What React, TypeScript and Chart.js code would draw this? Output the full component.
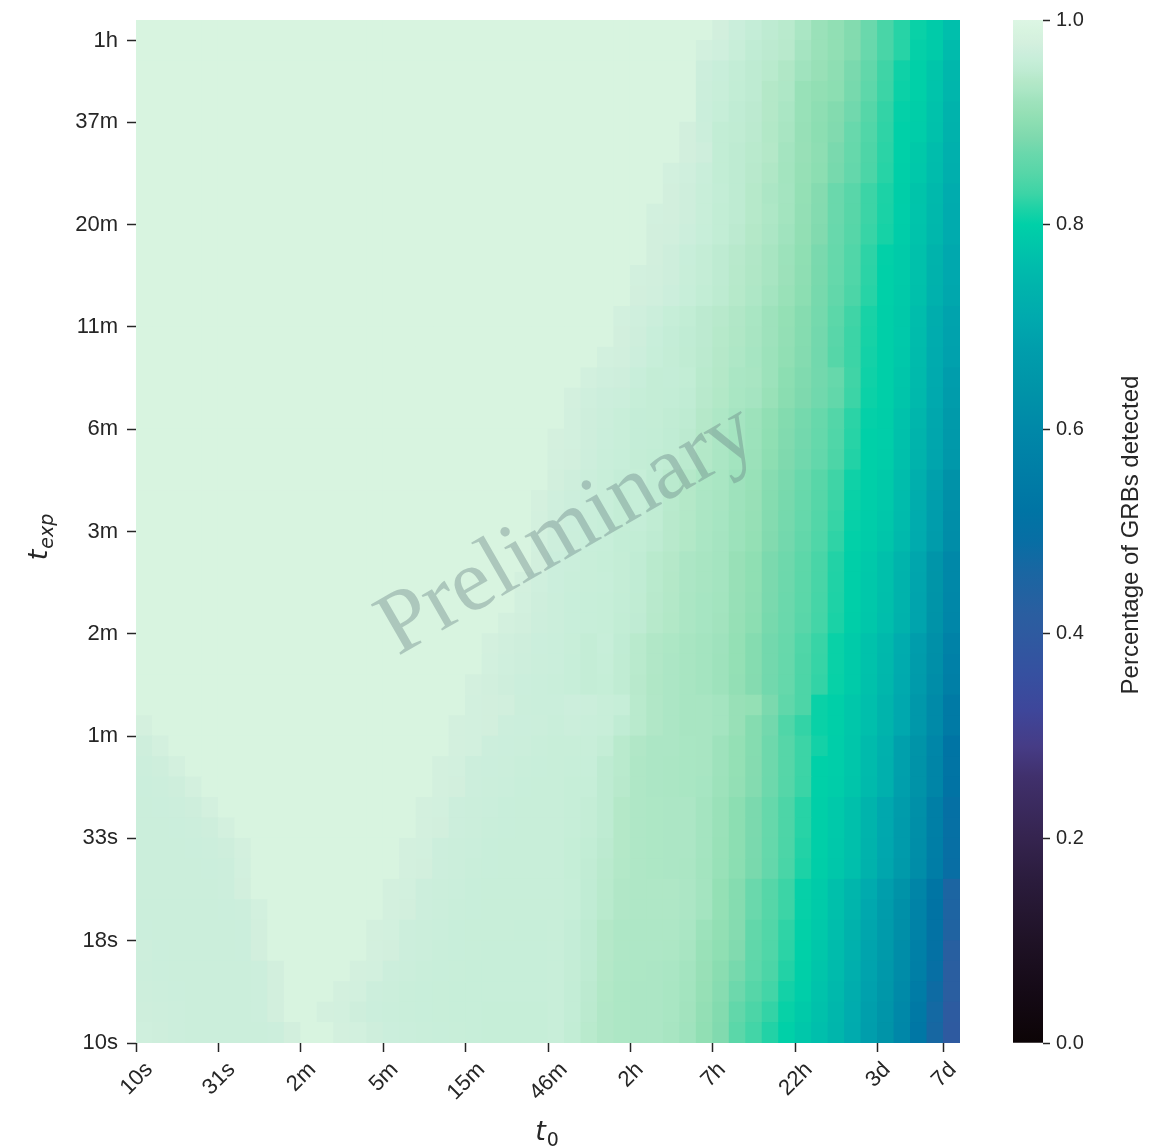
import React, { useEffect, useRef } from "react";
import { Chart, registerables } from "chart.js";

Chart.register(...registerables);

// ---- axes ----
const t0TickPositions = [0, 5, 10, 15, 20, 25, 30, 35, 40, 45, 49];
const t0TickLabels = ["10s", "31s", "2m", "5m", "15m", "46m", "2h", "7h", "22h", "3d", "7d"];
const texpTickPositions = [0, 5, 10, 15, 20, 25, 30, 35, 40, 45, 49];
const texpTickLabels = ["10s", "18s", "33s", "1m", "2m", "3m", "6m", "11m", "20m", "37m", "1h"];
const colorbarTicks = [0, 0.2, 0.4, 0.6, 0.8, 1.0];
const colorbarLabel = "Percentage of GRBs detected";
const watermarkText = "Preliminary";

// ---- values: fraction detected x1000; rows from top (t_exp = 1h) to bottom (t_exp = 10s),
// columns from t0 = 10s (left) to t0 = 7d (right) ----
const detectedPerMille: number[][] = [
  [990,990,990,990,990,990,990,990,990,990, 990,990,990,990,990,990,990,990,990,990, 990,990,990,990,990,990,990,990,990,990, 990,990,990,990,990, 975,965,958,950,945,930,915,905,890,870,840,820,805,790,765],
  [990,990,990,990,990,990,990,990,990,990, 990,990,990,990,990,990,990,990,990,990, 990,990,990,990,990,990,990,990,990,990, 990,990,990,990, 976,972,962,953,948,944,926,915,905,890,868,840,820,802,790,758],
  [990,990,990,990,990,990,990,990,990,990, 990,990,990,990,990,990,990,990,990,990, 990,990,990,990,990,990,990,990,990,990, 990,990,990,990, 968,963,956,950,945,936,922,912,902,882,862,832,808,800,778,748],
  [990,990,990,990,990,990,990,990,990,990, 990,990,990,990,990,990,990,990,990,990, 990,990,990,990,990,990,990,990,990,990, 990,990,990,990, 966,962,955,950,940,934,913,906,900,880,858,830,806,800,775,745],
  [990,990,990,990,990,990,990,990,990,990, 990,990,990,990,990,990,990,990,990,990, 990,990,990,990,990,990,990,990,990,990, 990,990,990,990, 965,960,953,948,940,930,913,902,890,875,850,826,802,796,772,738],
  [990,990,990,990,990,990,990,990,990,990, 990,990,990,990,990,990,990,990,990,990, 990,990,990,990,990,990,990,990,990,990, 990,990,990, 975,966,955,952,947,938,928,911,900,888,868,846,824,800,794,770,735],
  [990,990,990,990,990,990,990,990,990,990, 990,990,990,990,990,990,990,990,990,990, 990,990,990,990,990,990,990,990,990,990, 990,990,990, 975,970,955,950,945,940,925,912,902,882,866,844,822,800,786,762,727],
  [990,990,990,990,990,990,990,990,990,990, 990,990,990,990,990,990,990,990,990,990, 990,990,990,990,990,990,990,990,990,990, 990,990, 976,972,964,955,950,944,936,924,910,900,880,864,842,820,798,784,760,724],
  [990,990,990,990,990,990,990,990,990,990, 990,990,990,990,990,990,990,990,990,990, 990,990,990,990,990,990,990,990,990,990, 990,990, 975,970,962,956,950,942,932,925,908,892,870,853,830,815,796,776,752,716],
  [990,990,990,990,990,990,990,990,990,990, 990,990,990,990,990,990,990,990,990,990, 990,990,990,990,990,990,990,990,990,990, 990, 976,975,970,962,955,950,942,934,924,907,891,870,852,830,814,795,775,750,714],
  [990,990,990,990,990,990,990,990,990,990, 990,990,990,990,990,990,990,990,990,990, 990,990,990,990,990,990,990,990,990,990, 990, 975,974,968,961,955,948,940,932,922,906,889,868,850,828,812,794,773,748,712],
  [990,990,990,990,990,990,990,990,990,990, 990,990,990,990,990,990,990,990,990,990, 990,990,990,990,990,990,990,990,990,990, 990, 975,970,963,957,950,944,937,928,918,903,882,866,846,823,801,790,770,736,706],
  [990,990,990,990,990,990,990,990,990,990, 990,990,990,990,990,990,990,990,990,990, 990,990,990,990,990,990,990,990,990,990, 976,974,970,962,957,950,943,936,928,917,902,881,865,845,822,800,789,769,735,705],
  [990,990,990,990,990,990,990,990,990,990, 990,990,990,990,990,990,990,990,990,990, 990,990,990,990,990,990,990,990,990,990, 975,973,968,961,955,949,942,934,925,914,900,880,862,842,820,799,788,767,732,702],
  [990,990,990,990,990,990,990,990,990,990, 990,990,990,990,990,990,990,990,990,990, 990,990,990,990,990,990,990,990,990, 976,972,966,960,955,948,944,937,929,920,908,894,878,856,833,813,798,786,762,718,692],
  [990,990,990,990,990,990,990,990,990,990, 990,990,990,990,990,990,990,990,990,990, 990,990,990,990,990,990,990,990,990, 975,970,963,958,953,948,942,936,928,920,907,893,877,853,830,812,797,785,760,715,690],
  [990,990,990,990,990,990,990,990,990,990, 990,990,990,990,990,990,990,990,990,990, 990,990,990,990,990,990,990,990, 976,974,968,961,957,952,947,941,934,927,918,905,891,876,850,830,810,797,784,758,713,688],
  [990,990,990,990,990,990,990,990,990,990, 990,990,990,990,990,990,990,990,990,990, 990,990,990,990,990,990,990, 976,972,970,963,957,958,955,945,940,930,928,918,900,887,877,866,833,808,797,780,755,710,675],
  [990,990,990,990,990,990,990,990,990,990, 990,990,990,990,990,990,990,990,990,990, 990,990,990,990,990,990, 977,972,968,966,960,957,956,953,944,938,929,926,914,898,885,875,862,830,806,797,778,752,707,672],
  [990,990,990,990,990,990,990,990,990,990, 990,990,990,990,990,990,990,990,990,990, 990,990,990,990,990,990, 976,970,966,962,958,957,954,950,941,934,926,919,905,890,878,867,848,822,802,796,772,744,702,664],
  [990,990,990,990,990,990,990,990,990,990, 990,990,990,990,990,990,990,990,990,990, 990,990,990,990,990, 978,976,970,965,962,958,956,953,948,940,932,925,918,903,888,877,865,845,820,800,795,770,740,700,660],
  [990,990,990,990,990,990,990,990,990,990, 990,990,990,990,990,990,990,990,990,990, 990,990,990,990,990, 977,975,969,964,961,957,955,952,947,939,931,924,916,901,886,875,863,843,818,800,794,768,738,698,656],
  [990,990,990,990,990,990,990,990,990,990, 990,990,990,990,990,990,990,990,990,990, 990,990,990,990,990, 975,970,966,962,958,960,953,946,941,933,929,921,913,895,882,869,852,832,808,797,787,762,724,684,632],
  [990,990,990,990,990,990,990,990,990,990, 990,990,990,990,990,990,990,990,990,990, 990,990,990,990, 978,972,968,965,962,957,960,953,945,940,932,928,920,912,893,880,867,850,830,805,795,785,760,720,680,625],
  [990,990,990,990,990,990,990,990,990,990, 990,990,990,990,990,990,990,990,990,990, 990,990,990,990, 977,970,967,964,961,957,958,952,944,939,931,927,919,910,891,878,865,848,827,803,794,782,757,716,676,620],
  [990,990,990,990,990,990,990,990,990,990, 990,990,990,990,990,990,990,990,990,990, 990,990,990,990, 976,969,966,963,961,956,955,950,944,938,930,926,918,908,889,877,862,845,824,801,792,778,752,712,670,615],
  [990,990,990,990,990,990,990,990,990,990, 990,990,990,990,990,990,990,990,990,990, 990,990,990,990, 975,967,965,962,960,957,953,945,941,932,928,925,912,903,883,873,857,840,818,798,785,768,740,700,645,600],
  [990,990,990,990,990,990,990,990,990,990, 990,990,990,990,990,990,990,990,990,990, 990,990,990, 977,972,967,964,962,961,957,953,945,940,932,928,925,912,903,883,872,856,839,817,797,784,767,738,698,643,598],
  [990,990,990,990,990,990,990,990,990,990, 990,990,990,990,990,990,990,990,990,990, 990,990,990, 976,970,966,963,961,960,956,952,944,939,931,927,924,911,902,882,871,855,838,816,797,783,766,737,696,641,596],
  [990,990,990,990,990,990,990,990,990,990, 990,990,990,990,990,990,990,990,990,990, 990,990, 977,974,969,966,963,961,960,955,951,943,938,931,927,923,910,900,880,870,853,836,814,796,782,764,735,694,638,592],
  [990,990,990,990,990,990,990,990,990,990, 990,990,990,990,990,990,990,990,990,990, 990, 977,973,970,967,965,962,957,961,953,945,937,933,928,925,921,908,893,877,867,845,828,805,790,772,752,715,675,625,575],
  [990,990,990,990,990,990,990,990,990,990, 990,990,990,990,990,990,990,990,990,990, 990, 976,972,969,966,965,961,957,960,952,945,937,932,928,925,920,908,893,877,866,844,827,805,790,771,750,713,672,622,570],
  [990,990,990,990,990,990,990,990,990,990, 990,990,990,990,990,990,990,990,990,990, 977,974,970,967,965,964,961,957,959,952,944,936,932,928,925,920,907,892,876,865,843,826,804,789,770,748,710,668,618,565],
  [990,990,990,990,990,990,990,990,990,990, 990,990,990,990,990,990,990,990,990,990, 976,975,974,966,965,965,968,966,962,960,945,937,932,928,928,925,912,908,883,860,843,805,797,782,765,740,705,655,605,545],
  [978, 990,990,990,990,990,990,990,990,990,990, 990,990,990,990,990,990,990,990, 977,976,975,968,967,966,964,966,964,962,953,945,937,932,928,928,925,912,893,877,845,826,805,797,782,765,740,705,655,605,545],
  [970,977, 990,990,990,990,990,990,990,990,990,990, 990,990,990,990,990,990,990, 977,976,968,967,966,964,962,962,962,957,945,937,932,932,929,928,920,908,893,873,850,830,810,795,780,758,730,685,640,590,520],
  [968,970,977, 990,990,990,990,990,990,990,990,990,990, 990,990,990,990,990, 977,976,968,967,966,964,963,962,961,961,950,945,935,932,931,929,928,920,908,892,873,850,830,800,795,779,757,729,684,638,588,518],
  [967,968,970,977, 990,990,990,990,990,990,990,990,990,990, 990,990,990,990, 977,975,968,966,965,963,962,962,960,960,950,944,935,932,931,929,927,919,907,891,872,849,829,799,794,778,756,728,682,636,586,515],
  [966,967,968,970,977, 990,990,990,990,990,990,990,990,990,990, 990,990, 977,976,968,966,965,963,962,962,962,960,957,950,940,935,933,932,932,925,915,900,883,866,843,820,798,785,768,740,705,670,625,565,500],
  [966,966,967,968,970,977, 990,990,990,990,990,990,990,990,990,990, 990, 977,975,968,966,964,963,962,962,962,960,957,950,940,935,933,932,932,925,915,900,883,866,843,820,798,785,768,740,705,668,623,562,498],
  [966,966,966,967,968,970,977, 990,990,990,990,990,990,990,990,990, 977,976,968,966,965,963,962,962,962,962,959,955,948,940,935,933,932,932,925,914,900,882,865,842,818,797,784,767,738,703,666,620,560,495],
  [966,966,966,966,967,968,976, 990,990,990,990,990,990,990,990,990, 977,975,968,966,964,963,962,962,962,962,959,954,946,939,935,933,932,931,924,913,899,881,864,840,815,796,782,765,735,700,663,617,555,490],
  [966,966,966,966,966,968,975, 990,990,990,990,990,990,990,990, 977,976,968,966,965,963,962,962,962,962,962,960,953,945,937,935,935,935,932,925,908,893,870,850,830,803,790,768,745,712,678,635,588,525,455],
  [966,966,966,966,966,967,968,976, 990,990,990,990,990,990,990, 977,975,968,966,964,963,962,962,962,962,962,960,953,945,937,935,935,935,932,925,908,893,870,850,830,803,789,767,742,705,672,628,580,515,450],
  [967,966,966,966,966,966,967,975, 990,990,990,990,990,990, 977,976,968,966,965,963,962,962,962,961,961,962,958,950,940,934,934,934,934,930,918,906,892,862,847,824,801,785,763,735,700,668,622,575,510,445],
  [969,967,966,966,966,966,967,975, 990,990,990,990,990,990, 977,975,968,966,964,963,962,961,961,961,961,962,958,951,941,935,934,934,933,928,914,903,888,860,845,822,800,782,760,730,696,662,618,570,505,425],
  [968,967,966,966,966,966,966,968,975, 990,990,990,990, 977,976,968,966,964,963,962,961,961,961,961,961,962,957,950,940,934,933,932,930,925,912,898,880,858,842,818,798,778,757,725,692,655,612,562,495,420],
  [969,968,967,966,966,966,966,968,975, 990,990,990, 977,976,968,966,964,963,962,961,961,961,961,961,961,962,956,948,938,933,932,932,929,924,910,895,872,850,835,810,795,773,752,720,688,650,605,550,480,418],
  [970,969,968,966,966,966,966,968,975, 990,990, 977,976,970,967,965,964,963,962,961,961,960,960,960,960,962,956,947,937,933,932,932,929,923,907,890,862,842,826,804,788,769,748,716,682,645,600,538,470,405],
  [972,970,968,966,966,966,966,966,968,975, 990,990, 977,976,970,967,965,964,963,962,961,960,960,960,960,962,955,945,937,933,932,932,928,922,905,888,855,835,818,800,782,765,745,712,678,640,595,530,465,400],
];

// ---- colour map (mako-like, as rendered in the reference) ----
const MAKO_STOPS: [number, string][] = [
  [0.0, "#0C0406"], [0.05, "#150A16"], [0.1, "#1F1226"], [0.16, "#2B1C3D"], [0.2, "#35244F"],
  [0.26, "#40306C"], [0.29, "#463C86"], [0.325, "#3E469A"], [0.36, "#3650A0"], [0.4, "#2E5AA0"],
  [0.42, "#2A5EA0"], [0.46, "#1A66A2"], [0.49, "#086EA4"], [0.52, "#0074A4"], [0.56, "#007EA6"],
  [0.6, "#0088A8"], [0.64, "#0094A8"], [0.68, "#009EAC"], [0.71, "#00AAAE"], [0.74, "#00B4AC"],
  [0.76, "#00BCAC"], [0.78, "#00C6AA"], [0.8, "#00D0A8"], [0.815, "#1CD2A6"], [0.83, "#3CD4A6"],
  [0.85, "#56D6A8"], [0.87, "#6AD8AC"], [0.885, "#7ED9AE"], [0.9, "#8CDEB2"], [0.91, "#96E0B6"],
  [0.92, "#9EE2BC"], [0.93, "#AAE6C4"], [0.94, "#B4E8C8"], [0.95, "#BEEBD2"], [0.96, "#C6EED8"],
  [0.968, "#CCEEDC"], [0.978, "#D4F0DE"], [0.99, "#D8F4E0"], [1.0, "#DDF6E4"],
];

const INK = "#262626";
const SANS = "'Liberation Sans', Arial, Helvetica, sans-serif";
const TICK_PX = 22;

function hexToRgb(h: string): [number, number, number] {
  const n = parseInt(h.slice(1), 16);
  return [(n >> 16) & 255, (n >> 8) & 255, n & 255];
}

function colorFor(v: number): string {
  if (v <= MAKO_STOPS[0][0]) return MAKO_STOPS[0][1];
  for (let i = 1; i < MAKO_STOPS.length; i++) {
    const [p1, c1] = MAKO_STOPS[i];
    if (v <= p1) {
      const [p0, c0] = MAKO_STOPS[i - 1];
      const t = (v - p0) / (p1 - p0);
      const a = hexToRgb(c0);
      const b = hexToRgb(c1);
      const r = Math.round(a[0] + (b[0] - a[0]) * t);
      const g = Math.round(a[1] + (b[1] - a[1]) * t);
      const bl = Math.round(a[2] + (b[2] - a[2]) * t);
      return `rgb(${r},${g},${bl})`;
    }
  }
  return MAKO_STOPS[MAKO_STOPS.length - 1][1];
}

function drawSubscripted(
  c: CanvasRenderingContext2D, x: number, y: number, rot: number,
  main: string, sub: string, subItalic: boolean
) {
  const mainFont = "italic 27px 'DejaVu Sans', sans-serif";
  const subFont = (subItalic ? "italic " : "") + "19px 'DejaVu Sans', sans-serif";
  c.save();
  c.translate(x, y);
  c.rotate(rot);
  c.textAlign = "left";
  c.textBaseline = "alphabetic";
  c.font = mainFont;
  const wm = c.measureText(main).width;
  c.font = subFont;
  const ws = c.measureText(sub).width;
  const start = -(wm + ws + 1) / 2;
  c.font = mainFont;
  c.fillText(main, start, 0);
  c.font = subFont;
  c.fillText(sub, start + wm + 1, 6);
  c.restore();
}

const titlesPlugin = {
  id: "mathTitles",
  afterDraw(chart: any) {
    const c = chart.ctx as CanvasRenderingContext2D;
    c.save();
    c.fillStyle = INK;
    drawSubscripted(c, 47, 537, -Math.PI / 2, "t", "exp", true);
    drawSubscripted(c, 547, 1140, 0, "t", "0", false);
    c.restore();
  },
};

// x tick labels rotated 45 degrees, centred under their ticks (matplotlib style)
const xLabelsPlugin = {
  id: "xLabels",
  afterDraw(chart: any) {
    const c = chart.ctx as CanvasRenderingContext2D;
    const xs = chart.scales.x;
    const top = chart.chartArea.bottom + 17;
    c.save();
    c.fillStyle = INK;
    c.font = `${TICK_PX}px ${SANS}`;
    c.textAlign = "center";
    c.textBaseline = "middle";
    t0TickPositions.forEach((v, i) => {
      const label = t0TickLabels[i];
      const px = xs.getPixelForValue(v);
      const w = c.measureText(label).width;
      const h = TICK_PX * 0.72;
      const half = ((w + h) * Math.SQRT1_2) / 2;
      c.save();
      c.translate(px, top + half);
      c.rotate(-Math.PI / 4);
      c.fillText(label, 0, 1);
      c.restore();
    });
    c.restore();
  },
};

const watermarkPlugin = {
  id: "watermark",
  afterDatasetsDraw(chart: any) {
    const c = chart.ctx as CanvasRenderingContext2D;
    c.save();
    c.translate(568, 531);
    c.rotate((-30 * Math.PI) / 180);
    c.font = "89px 'Liberation Serif', 'Times New Roman', serif";
    c.textAlign = "center";
    c.textBaseline = "middle";
    c.fillStyle = "rgba(100,125,128,0.38)";
    c.fillText(watermarkText, 0, 0);
    c.restore();
  },
};

const colorbarTitlePlugin = {
  id: "cbTitle",
  afterDraw(chart: any) {
    const c = chart.ctx as CanvasRenderingContext2D;
    c.save();
    c.translate(131, 535);
    c.rotate(-Math.PI / 2);
    c.font = `24px ${SANS}`;
    c.fillStyle = INK;
    c.textAlign = "center";
    c.textBaseline = "middle";
    c.fillText(colorbarLabel, 0, 0);
    c.restore();
  },
};

export default function App() {
  const mainRef = useRef<HTMLCanvasElement>(null);
  const cbRef = useRef<HTMLCanvasElement>(null);

  const badRows = detectedPerMille
    .map((r, i) => (r.length !== 50 ? `row ${i}: ${r.length}` : ""))
    .filter(Boolean);

  useEffect(() => {
    if (!mainRef.current || !cbRef.current) return;
    const nRows = detectedPerMille.length;
    const cells: { x: number; y: [number, number]; v: number }[] = [];
    detectedPerMille.forEach((row, r) => {
      const yi = nRows - 1 - r;
      row.forEach((val, c) => {
        cells.push({ x: c + 0.5, y: [yi, yi + 1], v: val / 1000 });
      });
    });

    const main = new Chart(mainRef.current, {
      type: "bar",
      data: {
        datasets: [
          {
            data: cells as any,
            backgroundColor: (ctx: any) => (ctx.raw ? colorFor(ctx.raw.v) : "rgba(0,0,0,0)"),
            borderWidth: 0,
            borderSkipped: false,
            inflateAmount: 0.5,
            barPercentage: 1,
            categoryPercentage: 1,
          } as any,
        ],
      },
      options: {
        animation: false,
        responsive: false,
        devicePixelRatio: 1,
        events: [],
        layout: { padding: { left: 20, right: 40, top: 20, bottom: 0 } },
        plugins: { legend: { display: false }, tooltip: { enabled: false } },
        scales: {
          x: {
            type: "linear",
            min: 0,
            max: 50,
            offset: false,
            afterBuildTicks: (s: any) => {
              s.ticks = t0TickPositions.map((value) => ({ value }));
            },
            afterFit: (s: any) => {
              s.height = 105;
            },
            grid: {
              display: true,
              offset: false,
              drawOnChartArea: false,
              drawTicks: true,
              tickLength: 9,
              tickWidth: 1.5,
              tickColor: INK,
            },
            border: { display: false },
            ticks: {
              display: false,
              autoSkip: false,
            },
          },
          y: {
            type: "linear",
            min: 0,
            max: 50,
            afterBuildTicks: (s: any) => {
              s.ticks = texpTickPositions.map((value) => ({ value }));
            },
            afterFit: (s: any) => {
              s.width = 116;
            },
            grid: {
              display: true,
              drawOnChartArea: false,
              drawTicks: true,
              tickLength: 9,
              tickWidth: 1.5,
              tickColor: INK,
            },
            border: { display: false },
            ticks: {
              autoSkip: false,
              padding: 9,
              color: INK,
              font: { family: SANS, size: TICK_PX, lineHeight: 1.0 },
              callback: (_v: any, i: number) => texpTickLabels[i],
            },
          },
        },
      } as any,
      plugins: [watermarkPlugin, xLabelsPlugin, titlesPlugin],
    });

    const cb = new Chart(cbRef.current, {
      type: "bar",
      data: {
        labels: [""],
        datasets: [
          {
            data: [[0, 1]] as any,
            backgroundColor: (ctx: any) => {
              const chart = ctx.chart;
              const area = chart.chartArea;
              if (!area) return "#888";
              const g = chart.ctx.createLinearGradient(0, area.bottom, 0, area.top);
              MAKO_STOPS.forEach(([p, col]) => g.addColorStop(p, col));
              return g;
            },
            borderWidth: 0,
            borderSkipped: false,
            barPercentage: 1,
            categoryPercentage: 1,
          } as any,
        ],
      },
      options: {
        animation: false,
        responsive: false,
        devicePixelRatio: 1,
        events: [],
        layout: { padding: { left: 13, right: 0, top: 20, bottom: 105 } },
        plugins: { legend: { display: false }, tooltip: { enabled: false } },
        scales: {
          x: { display: false },
          y: {
            position: "right",
            min: 0,
            max: 1,
            afterBuildTicks: (s: any) => {
              s.ticks = colorbarTicks.map((value) => ({ value }));
            },
            afterFit: (s: any) => {
              s.width = 119;
            },
            grid: {
              display: true,
              drawOnChartArea: false,
              drawTicks: true,
              tickLength: 7,
              tickWidth: 1.5,
              tickColor: INK,
            },
            border: { display: false },
            ticks: {
              padding: 6,
              color: INK,
              font: { family: SANS, size: 20, lineHeight: 1.0 },
              callback: (v: any) => Number(v).toFixed(1),
            },
          },
        },
      } as any,
      plugins: [colorbarTitlePlugin],
    });

    return () => {
      main.destroy();
      cb.destroy();
    };
  }, []);

  return (
    <div style={{ position: "absolute", left: 0, top: 0, width: 1162, height: 1148, background: "#ffffff", overflow: "hidden" }}>
      <canvas
        ref={mainRef}
        width={1000}
        height={1148}
        style={{ position: "absolute", left: 0, top: 0, width: 1000, height: 1148 }}
      />
      <canvas
        ref={cbRef}
        width={162}
        height={1148}
        style={{ position: "absolute", left: 1000, top: 0, width: 162, height: 1148 }}
      />
      {badRows.length > 0 && (
        <div style={{ position: "absolute", left: 200, top: 200, color: "red", fontSize: 20 }}>{badRows.join(", ")}</div>
      )}
    </div>
  );
}
